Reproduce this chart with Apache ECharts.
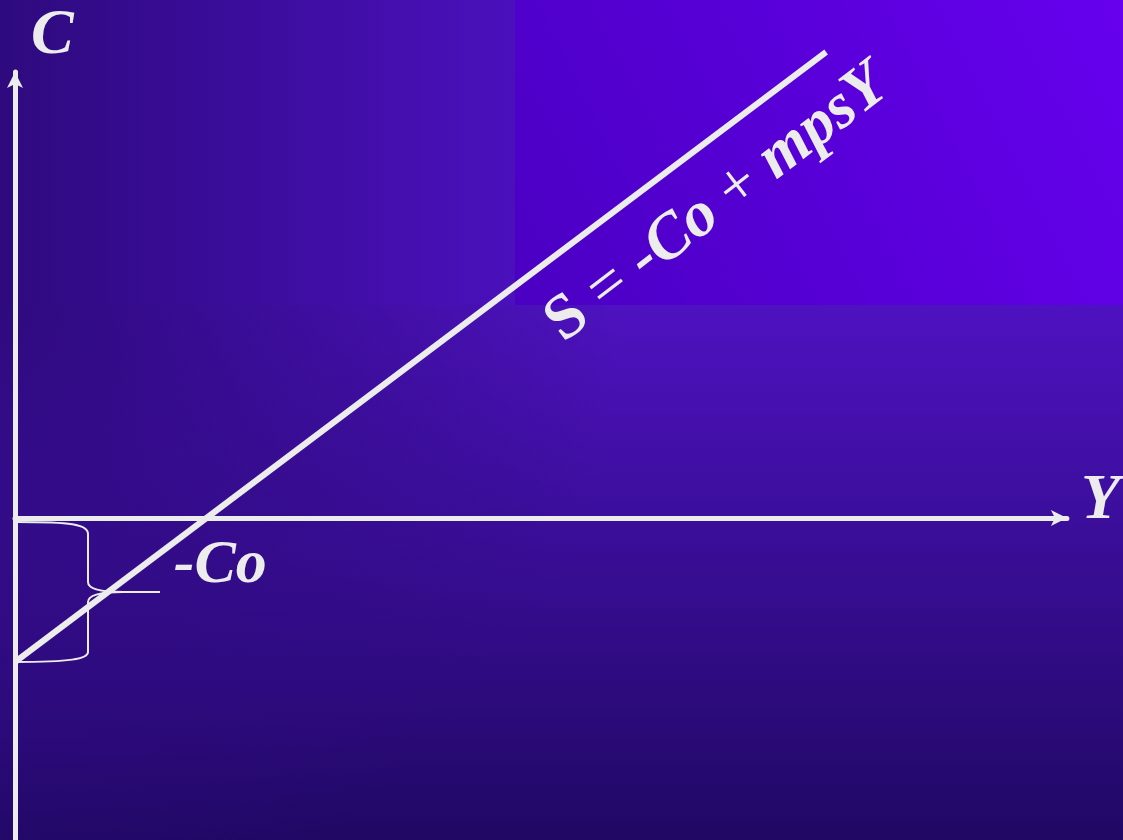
<!DOCTYPE html>
<html>
<head>
<meta charset="utf-8">
<script src="https://cdn.jsdelivr.net/npm/echarts@6/dist/echarts.min.js"></script>
<style>
html,body{margin:0;padding:0;background:#2e0a7e;}
#chart{width:1123px;height:840px;}
</style>
</head>
<body>
<div id="chart"></div>
<script>
// ---- data (units) ----
const xRange = [0, 1066];          // Y (income) axis extent
const yRange = [-322, 446];        // C axis extent
const lineX = [0, 822];            // savings line, x values
const lineY = [-144, 466];         // savings line, y values (starts at -Co)
const interceptCo = -144;          // -Co
const axisNames = ['Y', 'C'];
const coLabelPos = [161, -48];     // where the "-Co" label sits
const eqLabelPos = [712, 314];     // where the equation label sits
const eqAngle = 37.5;

const INK = '#ececec';
const SERIF = '"Liberation Serif", "Times New Roman", serif';

const chart = echarts.init(document.getElementById('chart'), null, {renderer: 'canvas'});

const bgGraphics = [
  { type: 'rect', z: -100, silent: true,
    shape: {x: 0, y: 0, width: 1123, height: 840},
    style: {fill: {type: 'linear', x: 0, y: 0, x2: 0, y2: 840, global: true,
      colorStops: [{offset: 0, color: '#4e12c0'}, {offset: 0.363, color: '#4e12c0'}, {offset: 1, color: '#200864'}]}} },
  { type: 'rect', z: -99, silent: true,
    shape: {x: 0, y: 305, width: 760, height: 535},
    style: {fill: {type: 'radial', x: 0, y: 305, r: 620, global: true,
      colorStops: [{offset: 0, color: 'rgba(46,10,126,1)'}, {offset: 0.45, color: 'rgba(46,10,126,0.55)'}, {offset: 1, color: 'rgba(46,10,126,0)'}]}} },
  { type: 'rect', z: -98, silent: true,
    shape: {x: 0, y: 0, width: 515, height: 305},
    style: {fill: {type: 'linear', x: 0, y: 0, x2: 1, y2: 0,
      colorStops: [{offset: 0, color: '#2e0a7e'}, {offset: 1, color: '#4a10bc'}]}} },
  { type: 'rect', z: -98, silent: true,
    shape: {x: 515, y: 0, width: 608, height: 305},
    style: {fill: {type: 'linear', x: 0, y: 1, x2: 1, y2: 0,
      colorStops: [{offset: 0, color: '#4a00c2'}, {offset: 1, color: '#6600ee'}]}} }
];

const labelBase = {color: INK, fontFamily: SERIF, opacity: 1};

const option = {
  backgroundColor: '#2e0a7e',
  animation: false,
  graphic: bgGraphics,
  grid: {left: 15, right: 42, top: 72, bottom: 0, containLabel: false},
  xAxis: {
    type: 'value', min: xRange[0], max: xRange[1],
    name: axisNames[0], nameLocation: 'end', nameGap: 14,
    nameTextStyle: Object.assign({}, labelBase, {fontSize: 64, fontStyle: 'italic', fontWeight: 'bold',
      align: 'left', verticalAlign: 'bottom', lineHeight: 34}),
    axisLine: {show: true, onZero: true, symbol: ['none', 'arrow'], symbolSize: [12, 16],
      lineStyle: {color: INK, width: 5}},
    axisTick: {show: false}, axisLabel: {show: false}, splitLine: {show: false}
  },
  yAxis: {
    type: 'value', min: yRange[0], max: yRange[1],
    name: axisNames[1], nameLocation: 'end', nameGap: 4,
    nameTextStyle: Object.assign({}, labelBase, {fontSize: 64, fontStyle: 'italic', fontWeight: 'bold',
      align: 'left', padding: [0, 0, 0, 16]}),
    axisLine: {show: true, onZero: false, symbol: ['none', 'arrow'], symbolSize: [12, 16],
      lineStyle: {color: INK, width: 5}},
    axisTick: {show: false}, axisLabel: {show: false}, splitLine: {show: false}
  },
  series: [
    {
      type: 'line', clip: false, symbol: 'none', silent: true,
      data: lineX.map((x, i) => [x, lineY[i]]),
      lineStyle: {color: INK, width: 6, cap: 'butt'},
      z: 5
    },
    {
      type: 'custom', clip: false, silent: true, z: 4,
      data: [[0, 0, interceptCo]],
      renderItem: function (params, api) {
        const top = api.coord([api.value(0), api.value(1)]);
        const bot = api.coord([api.value(0), api.value(2)]);
        const x0 = top[0], y0 = top[1] + 4, y1 = bot[1];
        const mid = (y0 + y1) / 2;
        const arm = x0 + 73;
        const d =
          'M' + (x0 + 2) + ' ' + y0 +
          ' C' + (x0 + 55) + ' ' + y0 + ' ' + arm + ' ' + (y0 + 2) + ' ' + arm + ' ' + (y0 + 12) +
          ' L' + arm + ' ' + (mid - 10) +
          ' C' + arm + ' ' + (mid - 2) + ' ' + (x0 + 88) + ' ' + mid + ' ' + (x0 + 108) + ' ' + mid +
          ' L' + (x0 + 145) + ' ' + mid +
          ' M' + (x0 + 108) + ' ' + mid +
          ' C' + (x0 + 88) + ' ' + mid + ' ' + arm + ' ' + (mid + 2) + ' ' + arm + ' ' + (mid + 10) +
          ' L' + arm + ' ' + (y1 - 10) +
          ' C' + arm + ' ' + (y1 - 3) + ' ' + (x0 + 55) + ' ' + y1 + ' ' + x0 + ' ' + y1;
        return {type: 'path', shape: {pathData: d},
          style: {fill: null, stroke: INK, lineWidth: 2}};
      }
    },
    {
      type: 'scatter', symbolSize: 0, silent: true, z: 6,
      itemStyle: {opacity: 1},
      data: [coLabelPos],
      label: Object.assign({}, labelBase, {show: true, position: 'right', distance: 0, formatter: '-Co',
        fontSize: 62, fontStyle: 'italic', fontWeight: 'bold'})
    },
    {
      type: 'scatter', symbolSize: 0, silent: true, z: 6,
      itemStyle: {opacity: 1},
      data: [eqLabelPos],
      label: Object.assign({}, labelBase, {show: true, position: 'inside', rotate: eqAngle,
        formatter: '{s|S} {n|=} {b|-Co} {n|+} {i|mpsY}',
        fontSize: 64,
        rich: {
          s: Object.assign({}, labelBase, {fontSize: 64, fontWeight: 'bold'}),
          n: Object.assign({}, labelBase, {fontSize: 64}),
          b: Object.assign({}, labelBase, {fontSize: 64, fontStyle: 'italic', fontWeight: 'bold'}),
          i: Object.assign({}, labelBase, {fontSize: 64, fontStyle: 'italic', fontWeight: 'bold'})
        }})
    }
  ]
};
chart.setOption(option);
</script>
</body>
</html>
